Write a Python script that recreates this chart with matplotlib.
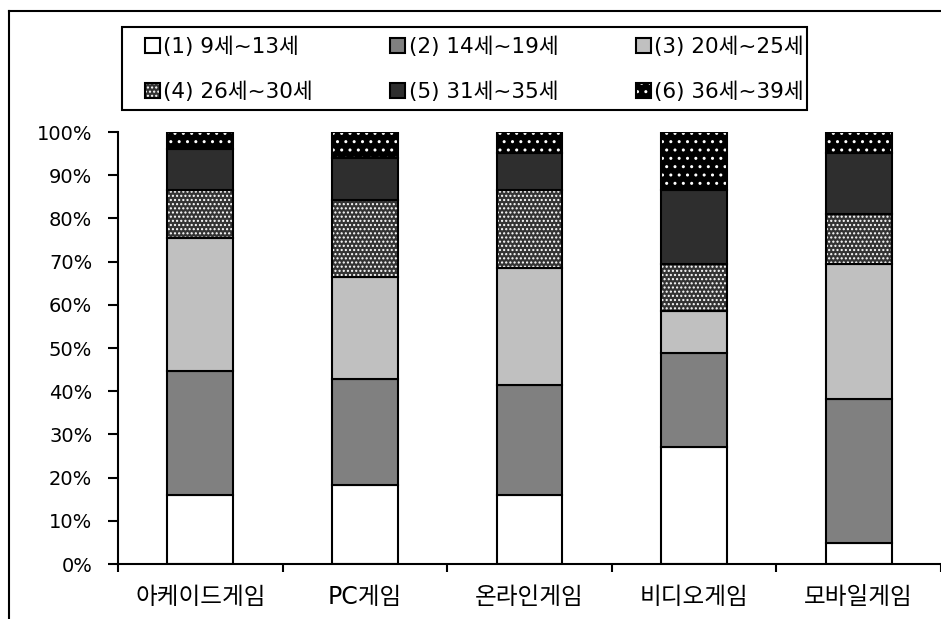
import matplotlib.pyplot as plt
from matplotlib.lines import Line2D
from matplotlib.patches import Rectangle
from matplotlib.ticker import PercentFormatter, FixedLocator, NullFormatter
import numpy as np

plt.rcParams['font.family'] = ['DejaVu Sans', 'Noto Sans CJK KR']

# Data: share of each age group by game type (%)
games = ['아케이드게임', 'PC게임', '온라인게임', '비디오게임', '모바일게임']
age_groups = ['(1) 9세~13세', '(2) 14세~19세', '(3) 20세~25세',
              '(4) 26세~30세', '(5) 31세~35세', '(6) 36세~39세']

age_9_13 = [16.0, 18.3, 16.0, 27.1, 4.9]
age_14_19 = [28.7, 24.5, 25.4, 21.7, 33.3]
age_20_25 = [30.8, 23.6, 27.1, 9.8, 31.2]
age_26_30 = [11.1, 17.9, 18.1, 10.8, 11.6]
age_31_35 = [9.4, 9.7, 8.5, 17.2, 14.1]
age_36_39 = [4.0, 6.0, 4.9, 13.4, 4.9]

series = [age_9_13, age_14_19, age_20_25, age_26_30, age_31_35, age_36_39]
fills = ['white', '#808080', '#c0c0c0', '#333333', '#2e2e2e', 'black']
hatches = [None, None, None, '....', None, '..']

W, H = 941, 619
fig = plt.figure(figsize=(W / 100, H / 100), dpi=100)
ax = fig.add_axes([118 / W, 1 - 564 / H, 1 - 118 / W, (564 - 132) / H])

x = np.arange(len(games))
bottom = np.zeros(len(games))
handles = []
for vals, fc, hatch in zip(series, fills, hatches):
    vals = np.array(vals)
    # fill (white hatch drawn with the edge colour), then a black outline on top
    fill = ax.bar(x, vals, 0.4, bottom=bottom, color=fc, hatch=hatch,
                  edgecolor='white' if hatch else fc, linewidth=0)
    edge = ax.bar(x, vals, 0.4, bottom=bottom, fill=False,
                  edgecolor='black', linewidth=1.5)
    handles.append((fill[0], edge[0]))
    bottom += vals

ax.set_xlim(-0.5, len(games) - 0.5)
ax.set_ylim(0, 100)
ax.yaxis.set_major_locator(FixedLocator(np.arange(0, 101, 10)))
ax.yaxis.set_major_formatter(PercentFormatter(decimals=0))
ax.tick_params(axis='y', direction='out', length=7.5, width=1.5,
               labelsize=14, pad=11)

ax.set_xticks(x)
ax.set_xticklabels(games, fontsize=17)
ax.tick_params(axis='x', which='major', length=0, pad=15)
ax.xaxis.set_minor_locator(FixedLocator(np.arange(-0.5, len(games), 1.0)))
ax.xaxis.set_minor_formatter(NullFormatter())
ax.tick_params(axis='x', which='minor', direction='out', length=6, width=1.5)

for side in ['top', 'right']:
    ax.spines[side].set_visible(False)
for side in ['left', 'bottom']:
    ax.spines[side].set_linewidth(1.5)
ax.spines['bottom'].set_clip_on(False)

# legend: rows read (1)(2)(3) / (4)(5)(6)
order = [0, 3, 1, 4, 2, 5]
leg = fig.legend([handles[i] for i in order], [age_groups[i] for i in order],
                 ncol=3, loc='upper left',
                 bbox_to_anchor=(145 / W, 1 - 37 / H),
                 frameon=False, fontsize=15.5, handlelength=0.7,
                 handleheight=0.7, handletextpad=0.15, columnspacing=3.6,
                 labelspacing=1.1, borderpad=0, borderaxespad=0)
fig.add_artist(Rectangle((122 / W, 1 - 110 / H), (807 - 122) / W, 83 / H,
                         transform=fig.transFigure, fill=False,
                         edgecolor='black', linewidth=1.5))

# outer chart border
fig.add_artist(Line2D([9 / W, 9 / W], [-0.01, 1 - 11 / H],
                      transform=fig.transFigure, color='black', linewidth=1.5))
fig.add_artist(Line2D([9 / W, 1.01], [1 - 11 / H, 1 - 11 / H],
                      transform=fig.transFigure, color='black', linewidth=1.5))

fig.savefig('out.png', dpi=100)
